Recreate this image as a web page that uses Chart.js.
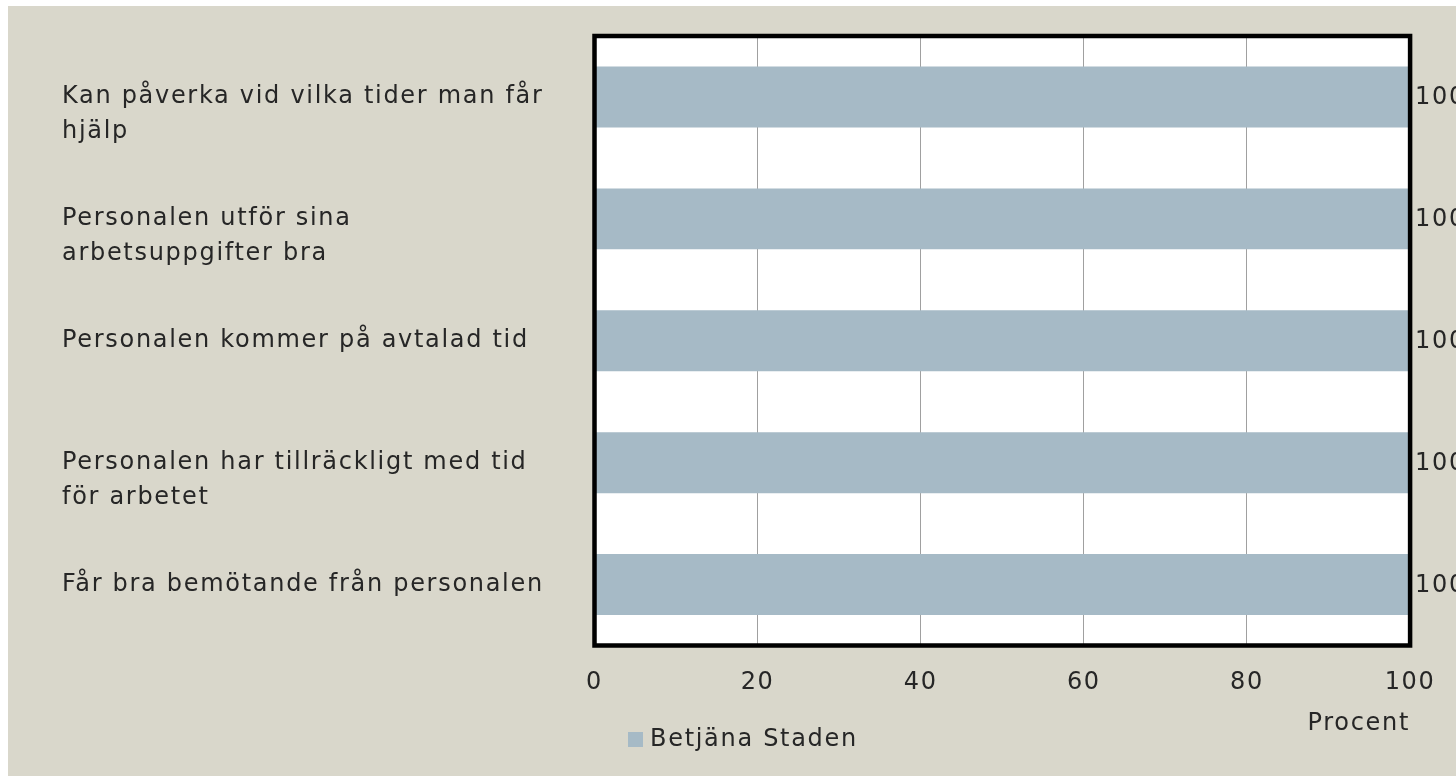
<!DOCTYPE html>
<html>
<head>
<meta charset="utf-8">
<script src="https://cdn.jsdelivr.net/npm/chart.js@4.4.1/dist/chart.umd.min.js"></script>
<style>
  html, body { margin: 0; padding: 0; background: #ffffff; overflow: hidden; }
  #ram { position: absolute; left: 8px; top: 6px; width: 1448px; height: 770px; background: #d9d7cb; }
</style>
</head>
<body>
<div id="ram"><canvas id="diagram" width="1448" height="770"></canvas></div>
<script>
// kategorier (radbrytningar som i originalet)
const kategorier = [
    ['Kan påverka vid vilka tider man får', 'hjälp'],
    ['Personalen utför sina', 'arbetsuppgifter bra'],
    'Personalen kommer på avtalad tid',
    ['Personalen har tillräckligt med tid', 'för arbetet'],
    'Får bra bemötande från personalen'
];
const betjanaStaden = [100, 100, 100, 100, 100];
const skalaMin = 0;
const skalaMax = 100;
const skalaSteg = 20;
const axelTitel = 'Procent';
const serieNamn = 'Betjäna Staden';

const typsnitt = "'DejaVu Sans', sans-serif";
const textFarg = '#262626';

// vit ritarea + tjock svart ram, bredare teckenavstånd (liknar Century Gothic)
const ramPlugin = {
    id: 'ram',
    beforeDraw(chart) {
        const a = chart.chartArea;
        const ctx = chart.ctx;
        ctx.letterSpacing = '1.7px';
        ctx.save();
        ctx.fillStyle = '#ffffff';
        ctx.fillRect(a.left, a.top, a.right - a.left, a.bottom - a.top);
        ctx.restore();
    },
    afterDatasetsDraw(chart) {
        const a = chart.chartArea;
        const ctx = chart.ctx;
        ctx.save();
        ctx.strokeStyle = '#000000';
        ctx.lineWidth = 4.5;
        ctx.strokeRect(a.left, a.top, a.right - a.left, a.bottom - a.top);
        ctx.restore();
    }
};

// värden till höger om staplarna
const vardePlugin = {
    id: 'varden',
    afterDraw(chart) {
        const ctx = chart.ctx;
        ctx.save();
        ctx.font = '24px ' + typsnitt;
        ctx.fillStyle = textFarg;
        ctx.textAlign = 'left';
        ctx.textBaseline = 'middle';
        chart.getDatasetMeta(0).data.forEach((bar, i) => {
            ctx.fillText(String(chart.data.datasets[0].data[i]), bar.x + 5, bar.y + 1);
        });
        ctx.restore();
    }
};

// förklaring nere till vänster
const forklaringPlugin = {
    id: 'forklaring',
    afterDraw(chart) {
        const ds = chart.data.datasets[0];
        const ctx = chart.ctx;
        ctx.save();
        ctx.fillStyle = ds.backgroundColor;
        ctx.fillRect(620, 726, 15, 15);
        ctx.font = '24px ' + typsnitt;
        ctx.fillStyle = textFarg;
        ctx.textBaseline = 'middle';
        ctx.fillText(ds.label, 642, 734);
        ctx.restore();
    }
};

new Chart(document.getElementById('diagram'), {
    type: 'bar',
    data: {
        labels: kategorier,
        datasets: [{
            label: serieNamn,
            data: betjanaStaden,
            backgroundColor: '#a6bac6',
            borderWidth: 0,
            barPercentage: 0.5,
            categoryPercentage: 1.0
        }]
    },
    options: {
        indexAxis: 'y',
        responsive: false,
        animation: false,
        layout: { padding: { left: 54, right: 43.5, top: 30, bottom: 0 } },
        plugins: {
            legend: { display: false },
            tooltip: { enabled: false }
        },
        scales: {
            x: {
                min: skalaMin,
                max: skalaMax,
                afterFit: (s) => { s.height = 130.5; },
                ticks: {
                    stepSize: skalaSteg,
                    color: textFarg,
                    font: { family: typsnitt, size: 24 },
                    padding: 23
                },
                grid: { color: '#a0a0a0', lineWidth: 1, drawTicks: false },
                border: { display: false },
                title: {
                    display: true,
                    text: axelTitel,
                    align: 'end',
                    color: textFarg,
                    font: { family: typsnitt, size: 24 },
                    padding: { top: 0, bottom: 37.6 }
                }
            },
            y: {
                afterFit: (s) => { s.width = 532.5; },
                ticks: {
                    crossAlign: 'far',
                    color: textFarg,
                    font: { family: typsnitt, size: 24, lineHeight: 1.45 },
                    // första raden i höjd med stapeln, resten under
                    callback: (v, i) => {
                        const l = kategorier[i];
                        return Array.isArray(l) ? [...Array(l.length - 1).fill(''), ...l] : l;
                    }
                },
                grid: { display: false },
                border: { display: false }
            }
        }
    },
    plugins: [ramPlugin, vardePlugin, forklaringPlugin]
});
</script>
</body>
</html>
